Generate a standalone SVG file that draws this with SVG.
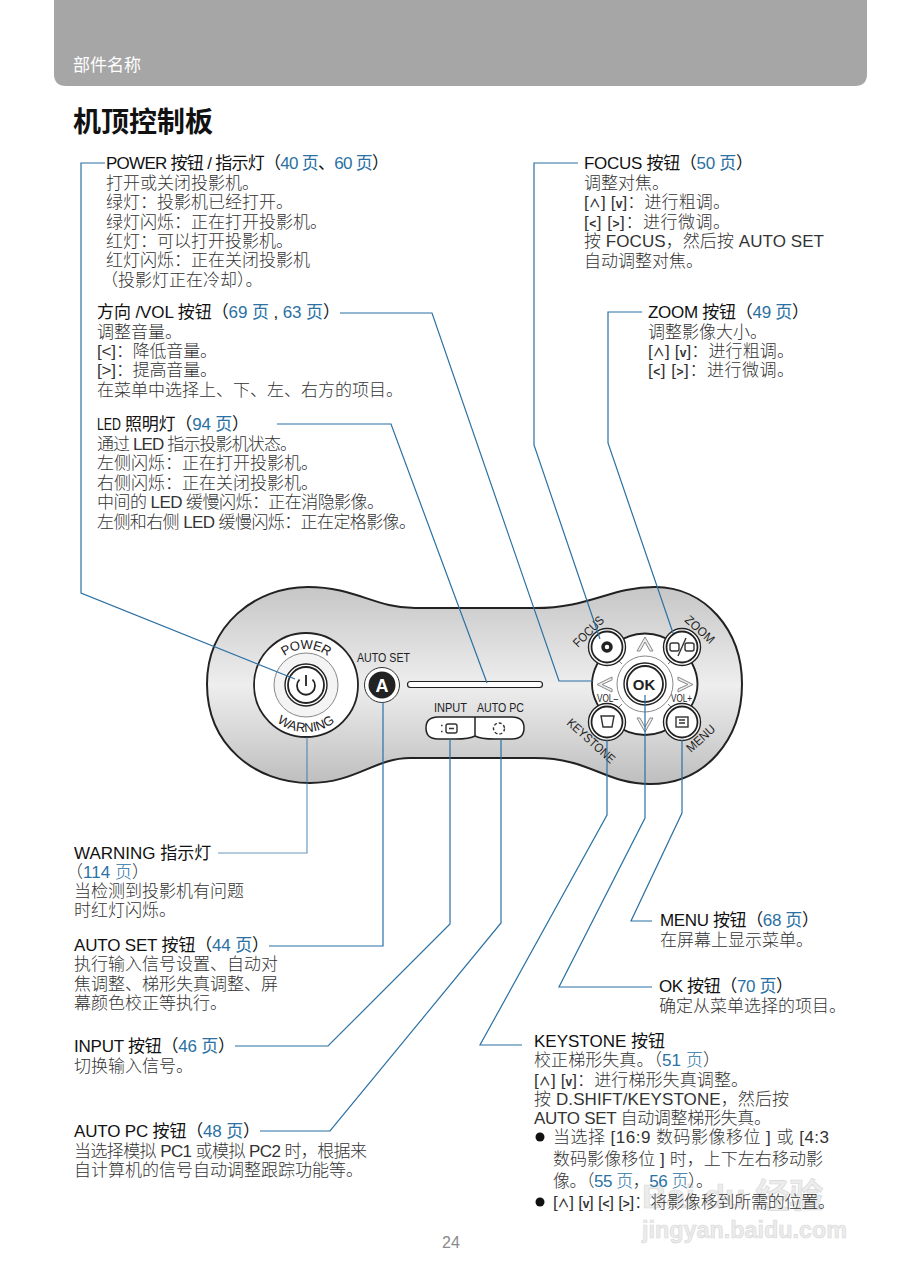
<svg xmlns="http://www.w3.org/2000/svg" width="903" height="1280" viewBox="0 0 903 1280">
<style>
text{font-family:"Liberation Sans","Noto Sans CJK SC",sans-serif}
.t{font-size:17px;fill:#333;font-weight:300}
.h{font-size:17px;fill:#111}
.l{fill:#2b71a3}
.k{font-size:12px;font-weight:bold}
.c{fill:none;stroke:#2b71a3;stroke-width:1.2}
.p{font-size:12.5px;fill:#222}
.btn{fill:#fff;stroke:#222;stroke-width:1.4}
.in{fill:none;stroke:#222;stroke-width:1.8}
.ic{fill:none;stroke:#333;stroke-width:1.4}
.ch{fill:#eee;stroke:#888;stroke-width:1}
.w{fill:#ececec;stroke:#d8d8d8;stroke-width:.6;font-weight:bold}
</style>
<defs>
<linearGradient id="g" x1="0" y1="0" x2="0" y2="1"><stop offset="0" stop-color="#c6c6c6"/><stop offset=".5" stop-color="#eeeeee"/><stop offset="1" stop-color="#bebebe"/></linearGradient>
</defs>
<rect width="903" height="1280" fill="#fff"/>
<path id="header" d="M54 0H867V74Q867 86 855 86H66Q54 86 54 74Z" fill="#a6a6a6"/>
<text x="73" y="71" font-size="17" fill="#fff">部件名称</text>
<text x="73" y="132" font-size="28" font-weight="bold" fill="#111">机顶控制板</text>

<g id="panel">
<path d="M207 684C207 625 255 587 308 587C355 587 375 608 415 608H535C590 608 610 587 655 587C705 587 742 630 742 684C742 740 705 784 650 784C605 784 590 758 535 758H410C375 758 355 783 310 783C255 783 207 745 207 684Z" fill="url(#g)" stroke="#222" stroke-width="2"/>
</g>

<g id="power-button">
<circle cx="306" cy="685" r="52" fill="#fff" stroke="#222" stroke-width="1.800"/>
<circle cx="306" cy="685" r="32" fill="#f4f4f4" stroke="#888" stroke-width="1"/>
<circle cx="306" cy="685" r="21" class="btn"/>
<circle cx="306" cy="685" r="18" class="in"/>
<path d="M299.500 679.500A9 9 0 1 0 312.500 679.500M306 675V686" fill="none" stroke="#222" stroke-width="1.800"/>
<path id="pw" d="M270 685A36 36 0 0 1 342 685" fill="none"/>
<path id="wn" d="M259 685A47 47 0 0 0 353 685" fill="none"/>
<text font-size="13" fill="#222" letter-spacing="-.6"><textPath href="#pw" startOffset="50%" text-anchor="middle">POWER</textPath></text>
<text font-size="13" fill="#222"><textPath href="#wn" startOffset="50%" text-anchor="middle">WARNING</textPath></text>
</g>

<g id="auto-set">
<text x="357" y="662" class="p" textLength="53" lengthAdjust="spacingAndGlyphs">AUTO SET</text>
<circle cx="382" cy="685" r="17.500" fill="#fff" stroke="#333" stroke-width="1"/>
<circle cx="382" cy="685" r="13.500" fill="#222"/>
<text x="382" y="692" text-anchor="middle" font-size="18" font-weight="bold" fill="#fff">A</text>
</g>

<g id="led-bar"><rect x="407.500" y="681.500" width="135" height="6" rx="3" fill="#fff" stroke="#222" stroke-width="1.200"/></g>

<g id="input-autopc">
<text x="434" y="712" class="p" textLength="33" lengthAdjust="spacingAndGlyphs">INPUT</text>
<text x="477" y="712" class="p" textLength="47" lengthAdjust="spacingAndGlyphs">AUTO PC</text>
<path d="M438 717H512Q524 717 524 728Q524 739 512 739H495Q480 739 475 736Q470 739 455 739H438Q426 739 426 728Q426 717 438 717ZM475 717V736" fill="#fff" stroke="#222" stroke-width="1.500"/>
<rect x="446" y="724" width="11" height="9" rx="2" class="ic"/><path d="M441 725.500h1.500M441 731.500h1.500M449 728.500H454" class="ic"/>
<circle cx="499" cy="728.500" r="5.500" class="ic" stroke-dasharray="3 2"/>
</g>

<g id="dpad">
<path d="M612 645Q645 622 678 645Q717 684 678 723Q645 747 612 723Q572 684 612 645Z" fill="#fff" stroke="#222" stroke-width="1.800"/>
<path d="M622 664L612 654M668 664L678 654M622 704L612 714M668 704L678 714" stroke="#777" stroke-width="1"/>
<path class="ch" d="M637 651L645 637L653 651L650 651L645 642L640 651Z"/>
<path class="ch" d="M637 718L645 732L653 718L650 718L645 727L640 718Z"/>
<path class="ch" d="M612 677L597 684.500L612 692L612 689L602 684.500L612 680Z"/>
<path class="ch" d="M678 677L693 684.500L678 692L678 689L688 684.500L678 680Z"/>
<text x="597" y="702" font-size="11" fill="#222" textLength="21" lengthAdjust="spacingAndGlyphs">VOL–</text>
<text x="671" y="702" font-size="11" fill="#222" textLength="21" lengthAdjust="spacingAndGlyphs">VOL+</text>
</g>

<g id="ok-button">
<circle cx="645" cy="684" r="28" fill="#fff" stroke="#888" stroke-width="1"/>
<circle cx="645" cy="684" r="21" class="btn"/>
<circle cx="645" cy="684" r="18" class="in"/>
<text x="644" y="690" text-anchor="middle" font-size="15" font-weight="bold" fill="#222">OK</text>
</g>

<g id="focus-button">
<circle cx="607" cy="647" r="18.500" class="btn"/><circle cx="607" cy="647" r="15.500" class="in"/>
<circle cx="607" cy="647" r="4" fill="none" stroke="#222" stroke-width="3.500"/>
<text transform="translate(578 648) rotate(-45)" font-size="12.500" fill="#222" textLength="38" lengthAdjust="spacingAndGlyphs">FOCUS</text>
</g>
<g id="zoom-button">
<circle cx="682" cy="647" r="18.500" class="btn"/><circle cx="682" cy="647" r="15.500" class="in"/>
<rect x="670" y="643" width="9" height="8" rx="2" class="ic"/><rect x="685" y="643" width="9" height="8" rx="2" class="ic"/><path d="M686 638L678 656" class="ic"/>
<text transform="translate(684 621) rotate(42)" font-size="12.500" fill="#222" textLength="35" lengthAdjust="spacingAndGlyphs">ZOOM</text>
</g>
<g id="keystone-button">
<circle cx="607" cy="722" r="18.500" class="btn"/><circle cx="607" cy="722" r="15.500" class="in"/>
<path d="M601 716H614L612 727H603Z" class="ic"/>
<text transform="translate(566 724) rotate(42)" font-size="12.500" fill="#222" textLength="60" lengthAdjust="spacingAndGlyphs">KEYSTONE</text>
</g>
<g id="menu-button">
<circle cx="682" cy="722" r="18.500" class="btn"/><circle cx="682" cy="722" r="15.500" class="in"/>
<rect x="676" y="717" width="12" height="10" class="ic"/><path d="M679 720H685M679 723H685" class="ic"/>
<text transform="translate(691 753) rotate(-42)" font-size="12.500" fill="#222" textLength="34" lengthAdjust="spacingAndGlyphs">MENU</text>
</g>

<g id="connectors">
<path class="c" d="M105 163H81V593L295 679"/>
<path class="c" d="M340 313H432L559 681H593"/>
<path class="c" d="M277 424H391L487 683"/>
<path class="c" d="M578 163H534V445L600 639"/>
<path class="c" d="M642 312H608V443L673 633"/>
<path class="c" d="M218 853H307V737" stroke-opacity=".7"/>
<path class="c" d="M269 946H383V702"/>
<path class="c" d="M235 1046H328L450 924V739"/>
<path class="c" d="M260 1131H330L501 923V739"/>
<path class="c" d="M522 1045H480L607 815V740"/>
<path class="c" d="M652 987H559L645 818V695"/>
<path class="c" d="M652 921H631L682 813V740"/>
</g>

<g id="watermark">
<text x="642" y="1208" font-size="34" class="w">Bai du 经验</text>
<text x="642" y="1238" font-size="24" class="w" textLength="205" lengthAdjust="spacingAndGlyphs">jingyan.baidu.com</text>
</g>

<g id="power-text">
<text x="106" y="169" class="h" textLength="283">POWER 按钮 / 指示灯（<tspan class="l">40 页</tspan>、<tspan class="l">60 页</tspan>）</text>
<text x="106" y="189" class="t">打开或关闭投影机。</text>
<text x="106" y="208" class="t">绿灯：投影机已经打开。</text>
<text x="106" y="228" class="t">绿灯闪烁：正在打开投影机。</text>
<text x="106" y="247" class="t">红灯：可以打开投影机。</text>
<text x="106" y="266" class="t">红灯闪烁：正在关闭投影机</text>
<text x="101" y="286" class="t">（投影灯正在冷却）。</text>
</g>
<g id="direction-text">
<text x="97" y="318" class="h" textLength="243">方向 /VOL 按钮（<tspan class="l">69 页</tspan> , <tspan class="l">63 页</tspan>）</text>
<text x="97" y="338" class="t">调整音量。</text>
<text x="97" y="357" class="t" textLength="120">[&lt;]：降低音量。</text>
<text x="97" y="376" class="t" textLength="120">[&gt;]：提高音量。</text>
<text x="97" y="396" class="t">在菜单中选择上、下、左、右方的项目。</text>
</g>
<g id="led-text">
<text x="97" y="430" class="h" textLength="24" lengthAdjust="spacingAndGlyphs">LED</text>
<text x="125" y="430" class="h" textLength="124">照明灯（<tspan class="l">94 页</tspan>）</text>
<text x="97" y="450" class="t" textLength="200">通过 LED 指示投影机状态。</text>
<text x="97" y="469" class="t">左侧闪烁：正在打开投影机。</text>
<text x="97" y="489" class="t">右侧闪烁：正在关闭投影机。</text>
<text x="97" y="508" class="t" textLength="287">中间的 LED 缓慢闪烁：正在消隐影像。</text>
<text x="97" y="528" class="t" textLength="319">左侧和右侧 LED 缓慢闪烁：正在定格影像。</text>
</g>
<g id="focus-text">
<text x="584" y="169" class="h" textLength="169">FOCUS 按钮（<tspan class="l">50 页</tspan>）</text>
<text x="584" y="189" class="t">调整对焦。</text>
<text x="584" y="208" class="t" textLength="146">[<tspan class="k">∧</tspan>] [<tspan class="k">v</tspan>]：进行粗调。</text>
<text x="584" y="228" class="t" textLength="146">[<tspan class="k">&lt;</tspan>] [<tspan class="k">&gt;</tspan>]：进行微调。</text>
<text x="584" y="247" class="t" textLength="240">按 FOCUS，然后按 AUTO SET</text>
<text x="584" y="267" class="t">自动调整对焦。</text>
</g>
<g id="zoom-text">
<text x="648" y="318" class="h" textLength="161">ZOOM 按钮（<tspan class="l">49 页</tspan>）</text>
<text x="648" y="338" class="t">调整影像大小。</text>
<text x="648" y="357" class="t" textLength="146">[<tspan class="k">∧</tspan>] [<tspan class="k">v</tspan>]：进行粗调。</text>
<text x="648" y="376" class="t" textLength="146">[<tspan class="k">&lt;</tspan>] [<tspan class="k">&gt;</tspan>]：进行微调。</text>
</g>
<g id="warning-text">
<text x="74" y="859" class="h">WARNING 指示灯</text>
<text x="66" y="878" class="t" textLength="83">（<tspan class="l">114 页</tspan>）</text>
<text x="74" y="897" class="t">当检测到投影机有问题</text>
<text x="74" y="916" class="t">时红灯闪烁。</text>
</g>
<g id="autoset-text">
<text x="74" y="951" class="h" textLength="195">AUTO SET 按钮（<tspan class="l">44 页</tspan>）</text>
<text x="74" y="970" class="t">执行输入信号设置、自动对</text>
<text x="74" y="990" class="t">焦调整、梯形失真调整、屏</text>
<text x="74" y="1009" class="t">幕颜色校正等执行。</text>
</g>
<g id="input-text">
<text x="74" y="1052" class="h" textLength="161">INPUT 按钮（<tspan class="l">46 页</tspan>）</text>
<text x="74" y="1072" class="t">切换输入信号。</text>
</g>
<g id="autopc-text">
<text x="74" y="1137" class="h" textLength="186">AUTO PC 按钮（<tspan class="l">48 页</tspan>）</text>
<text x="74" y="1157" class="t" textLength="293">当选择模拟 PC1 或模拟 PC2 时，根据来</text>
<text x="74" y="1176" class="t">自计算机的信号自动调整跟踪功能等。</text>
</g>
<g id="menu-text">
<text x="660" y="926" class="h" textLength="159">MENU 按钮（<tspan class="l">68 页</tspan>）</text>
<text x="660" y="946" class="t">在屏幕上显示菜单。</text>
</g>
<g id="ok-text">
<text x="659" y="992" class="h" textLength="134">OK 按钮（<tspan class="l">70 页</tspan>）</text>
<text x="659" y="1012" class="t">确定从菜单选择的项目。</text>
</g>
<g id="keystone-text">
<text x="534" y="1047" class="h">KEYSTONE 按钮</text>
<text x="534" y="1066" class="t" textLength="186">校正梯形失真。（<tspan class="l">51 页</tspan>）</text>
<text x="534" y="1086" class="t" textLength="214">[<tspan class="k">∧</tspan>] [<tspan class="k">v</tspan>]：进行梯形失真调整。</text>
<text x="534" y="1105" class="t" textLength="255">按 D.SHIFT/KEYSTONE，然后按</text>
<text x="534" y="1124" class="t" textLength="237">AUTO SET 自动调整梯形失真。</text>
<circle cx="540" cy="1137" r="4.500" fill="#111"/>
<text x="553" y="1143" class="t" textLength="276">当选择 [16:9 数码影像移位 ] 或 [4:3</text>
<text x="553" y="1165" class="t" textLength="270">数码影像移位 ] 时，上下左右移动影</text>
<text x="553" y="1187" class="t" textLength="160">像。（<tspan class="l">55 页</tspan>，<tspan class="l">56 页</tspan>）。</text>
<circle cx="540" cy="1202" r="4.500" fill="#111"/>
<text x="553" y="1208" class="t" textLength="282">[<tspan class="k">∧</tspan>] [<tspan class="k">v</tspan>] [<tspan class="k">&lt;</tspan>] [<tspan class="k">&gt;</tspan>]：将影像移到所需的位置。</text>
</g>
<text x="451" y="1248" text-anchor="middle" font-size="16" fill="#8a8a8a">24</text>
</svg>
